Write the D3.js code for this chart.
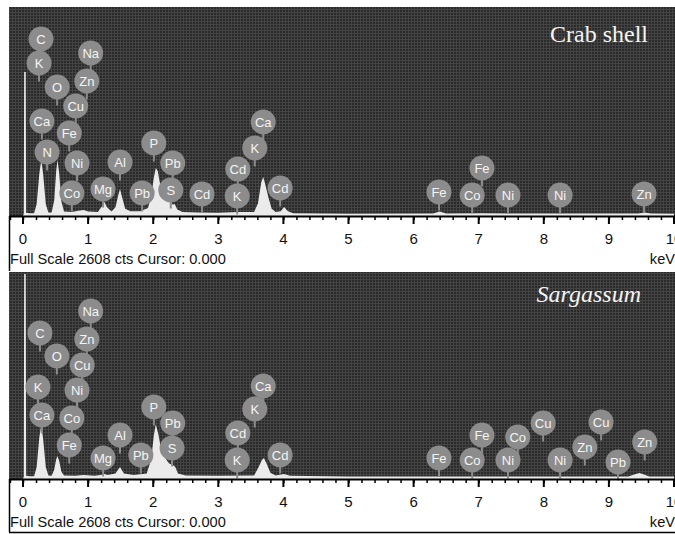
<!DOCTYPE html>
<html>
<head>
<meta charset="utf-8">
<script src="https://cdn.jsdelivr.net/npm/d3@7"></script>
<style>
  body { margin: 0; background: #fff; }
  svg { display: block; font-family: Arial, "Liberation Sans", sans-serif; }
</style>
</head>
<body>
<div id="eds"></div>
<script>
// ---- data (keV, counts) ----
var keVTicks = [0, 1, 2, 3, 4, 5, 6, 7, 8, 9, 10];
var fullScale = 2608;

var crabKeV = [0, 0.012, 0.018, 0.042, 0.048, 0.1, 0.17, 0.21, 0.25, 0.28, 0.31, 0.35, 0.39, 0.44, 0.48, 0.51, 0.53, 0.555, 0.59, 0.63,
  0.75, 0.85, 0.93, 1.0, 1.15, 1.21, 1.25, 1.29, 1.36, 1.42, 1.46, 1.49, 1.52, 1.57, 1.65, 1.8, 1.92, 1.97, 2.01, 2.04, 2.07, 2.1,
  2.15, 2.2, 2.26, 2.3, 2.33, 2.37, 2.45, 2.7, 3.0, 3.3, 3.55, 3.61, 3.66, 3.69, 3.72, 3.77, 3.82, 3.88, 3.96, 4.01, 4.07, 4.15,
  5.0, 6.3, 6.4, 6.5, 7.06, 7.5, 9.45, 9.55, 9.65, 10];
var crabCounts = [0, 30, 1797, 1797, 40, 35, 35, 150, 520, 700, 520, 150, 45, 45, 200, 560, 700, 540, 180, 55,
  50, 65, 75, 55, 50, 120, 175, 110, 55, 110, 250, 337, 240, 90, 60, 60, 100, 250, 480, 600, 560, 420,
  320, 250, 200, 140, 150, 80, 50, 45, 42, 50, 50, 160, 420, 487, 400, 230, 90, 50, 60, 112, 60, 35,
  28, 30, 55, 30, 35, 32, 30, 45, 30, 28];

var sargKeV = [0, 0.012, 0.018, 0.042, 0.048, 0.1, 0.17, 0.21, 0.25, 0.28, 0.31, 0.35, 0.39, 0.44, 0.48, 0.51, 0.53, 0.555, 0.59, 0.63,
  0.8, 0.93, 1.1, 1.22, 1.25, 1.3, 1.42, 1.49, 1.55, 1.7, 1.9, 1.97, 2.01, 2.04, 2.08, 2.12, 2.18, 2.24, 2.3, 2.34, 2.38, 2.5,
  3.0, 3.55, 3.62, 3.67, 3.7, 3.74, 3.8, 3.88, 4.01, 4.1, 5.0, 8.0, 9.3, 9.4, 9.47, 9.55, 9.62, 10];
var sargCounts = [0, 30, 2583, 2583, 40, 35, 35, 150, 520, 680, 500, 150, 45, 40, 120, 250, 290, 230, 90, 45,
  40, 50, 40, 55, 63, 50, 70, 151, 70, 50, 70, 250, 550, 690, 560, 380, 270, 200, 176, 150, 70, 45,
  40, 45, 150, 240, 265, 200, 80, 45, 63, 40, 30, 30, 30, 60, 75, 55, 30, 30];

// element markers: name, energy (keV), marker height (counts)
var crabLabelNames = ['C', 'K', 'Na', 'Zn', 'O', 'Cu', 'Ca', 'Fe', 'N', 'Ni', 'Co', 'Mg', 'Al', 'Pb', 'P', 'Pb', 'S', 'Cd', 'Cd', 'K',
  'Ca', 'K', 'Cd', 'Fe', 'Fe', 'Co', 'Ni', 'Ni', 'Zn'];
var crabLabelKeV = [0.277, 0.246, 1.04, 0.98, 0.525, 0.81, 0.29, 0.71, 0.37, 0.83, 0.75, 1.23, 1.49, 1.83, 2.01, 2.30, 2.27, 2.75, 3.30, 3.29,
  3.69, 3.56, 3.95, 7.05, 6.39, 6.90, 7.45, 8.25, 9.54];
var crabLabelLevel = [2209, 1909, 2034, 1685, 1610, 1373, 1185, 1036, 799, 661, 287, 337, 674, 287, 911, 661, 324, 275, 586, 250,
  1173, 849, 349, 599, 300, 262, 262, 262, 275];

var sargLabelNames = ['Na', 'C', 'Zn', 'O', 'Cu', 'K', 'Ni', 'Ca', 'Co', 'Fe', 'Mg', 'Al', 'Pb', 'P', 'Pb', 'S', 'Cd', 'K', 'Ca', 'K',
  'Cd', 'Fe', 'Co', 'Cu', 'Cu', 'Zn', 'Zn', 'Fe', 'Co', 'Ni', 'Ni', 'Pb'];
var sargLabelKeV = [1.04, 0.26, 0.98, 0.52, 0.91, 0.23, 0.83, 0.29, 0.75, 0.71, 1.23, 1.49, 1.81, 2.01, 2.30, 2.29, 3.30, 3.29, 3.69, 3.56,
  3.95, 7.05, 7.60, 7.99, 8.88, 8.63, 9.55, 6.39, 6.90, 7.45, 8.25, 9.14];
var sargLabelLevel = [2117, 1840, 1764, 1550, 1436, 1159, 1121, 806, 769, 428, 265, 554, 302, 907, 706, 391, 580, 239, 1172, 882,
  302, 554, 529, 706, 718, 403, 466, 265, 239, 239, 239, 214];

// ---- layout ----
var svgWidth = 675;
var svgHeight = 534;

var svg = d3.select("#eds")
  .append("svg")
  .attr("width", svgWidth)
  .attr("height", svgHeight);

// dithered dark background of the spectrum window
var pat = svg.append("defs").append("pattern")
  .attr("id", "grain")
  .attr("width", 3).attr("height", 3)
  .attr("patternUnits", "userSpaceOnUse");
pat.append("rect").attr("width", 3).attr("height", 3).attr("fill", "#2a2a2a");
pat.append("rect").attr("width", 3).attr("height", 1).attr("fill", "#444");
pat.append("rect").attr("width", 1).attr("height", 3).attr("fill", "#444");

var x = d3.scaleLinear().domain([0, 10]).range([23, 674]);

var panels = [
  { top: 7, axisY: 216, bottom: 271, title: "Crab shell", italic: false, titleX: 648, titleY: 42,
    keV: crabKeV, counts: crabCounts, names: crabLabelNames, lkev: crabLabelKeV, level: crabLabelLevel },
  { top: 272, axisY: 479, bottom: 532, title: "Sargassum", italic: true, titleX: 641, titleY: 302,
    keV: sargKeV, counts: sargCounts, names: sargLabelNames, lkev: sargLabelKeV, level: sargLabelLevel }
];

panels.forEach(function(p, i) {
  var g = svg.append("g");
  var y = d3.scaleLinear().domain([0, fullScale]).range([p.axisY, p.top]);

  // spectrum window
  g.append("rect")
    .attr("x", 9).attr("y", p.top)
    .attr("width", svgWidth - 9).attr("height", p.axisY - p.top)
    .attr("fill", "url(#grain)");

  // spectrum
  var pts = p.keV.map((e, j) => [e, p.counts[j]]);
  var area = d3.area()
    .x(d => x(d[0]))
    .y0(p.axisY)
    .y1(d => y(d[1]));
  g.append("path")
    .datum(pts)
    .attr("d", area)
    .attr("fill", "#ebebeb");

  // element markers
  var marks = p.names.map((n, j) => ({ name: n, e: p.lkev[j], c: p.level[j] }));
  var r = 12.5;
  g.selectAll(".stem")
    .data(marks)
    .enter()
    .append("line")
    .attr("x1", d => x(d.e)).attr("x2", d => x(d.e))
    .attr("y1", d => y(d.c))
    .attr("y2", d => y(d.c) + r + 6)
    .attr("stroke", "#8c8c8c")
    .attr("stroke-width", 2);
  var lab = g.selectAll(".lab")
    .data(marks)
    .enter()
    .append("g")
    .attr("transform", d => `translate(${x(d.e)}, ${y(d.c)})`);
  lab.append("circle")
    .attr("r", r)
    .attr("fill", "#8c8c8c");
  lab.append("text")
    .attr("text-anchor", "middle")
    .attr("dy", "0.36em")
    .attr("font-size", 13)
    .attr("fill", "#f4f4f4")
    .text(d => d.name);

  // sample name
  g.append("text")
    .attr("x", p.titleX).attr("y", p.titleY)
    .attr("text-anchor", "end")
    .attr("font-family", "'Liberation Serif', 'Times New Roman', serif")
    .attr("font-size", 24)
    .attr("font-style", p.italic ? "italic" : "normal")
    .attr("fill", "#f4f4f4")
    .text(p.title);

  // energy axis
  var axis = d3.axisBottom(x)
    .tickValues(d3.range(-0.2, 10.01, 0.2).map(v => +v.toFixed(1)))
    .tickSize(4)
    .tickFormat("");
  var ax = g.append("g")
    .attr("transform", `translate(0, ${p.axisY})`)
    .call(axis);
  ax.select(".domain").remove();
  ax.selectAll("line").attr("stroke", "#000").attr("stroke-width", 1.5);
  g.append("line")
    .attr("x1", 9).attr("x2", svgWidth)
    .attr("y1", p.axisY + 0.5).attr("y2", p.axisY + 0.5)
    .attr("stroke", "#000").attr("stroke-width", 2);
  g.selectAll(".major")
    .data(keVTicks)
    .enter()
    .append("line")
    .attr("x1", d => x(d)).attr("x2", d => x(d))
    .attr("y1", p.axisY).attr("y2", p.axisY + 8)
    .attr("stroke", "#000").attr("stroke-width", 2);
  g.selectAll(".ticklab")
    .data(keVTicks)
    .enter()
    .append("text")
    .attr("x", d => x(d))
    .attr("y", p.axisY + 28)
    .attr("text-anchor", "middle")
    .attr("font-size", 15)
    .attr("fill", "#111")
    .text(d => d);

  // status line
  g.append("text")
    .attr("x", 10).attr("y", p.axisY + 48)
    .attr("font-size", 14.6)
    .attr("fill", "#111")
    .text("Full Scale " + fullScale + " cts Cursor: 0.000");
  g.append("text")
    .attr("x", svgWidth).attr("y", p.axisY + 48)
    .attr("text-anchor", "end")
    .attr("font-size", 14.6)
    .attr("fill", "#111")
    .text("keV");

  // frame
  g.append("line")
    .attr("x1", 9.5).attr("x2", 9.5)
    .attr("y1", p.axisY).attr("y2", p.bottom)
    .attr("stroke", "#000").attr("stroke-width", 1.5);
  if (i === 1) {
    g.append("line")
      .attr("x1", 9).attr("x2", svgWidth)
      .attr("y1", p.bottom + 0.5).attr("y2", p.bottom + 0.5)
      .attr("stroke", "#000").attr("stroke-width", 1.5);
  }
});
</script>
</body>
</html>
